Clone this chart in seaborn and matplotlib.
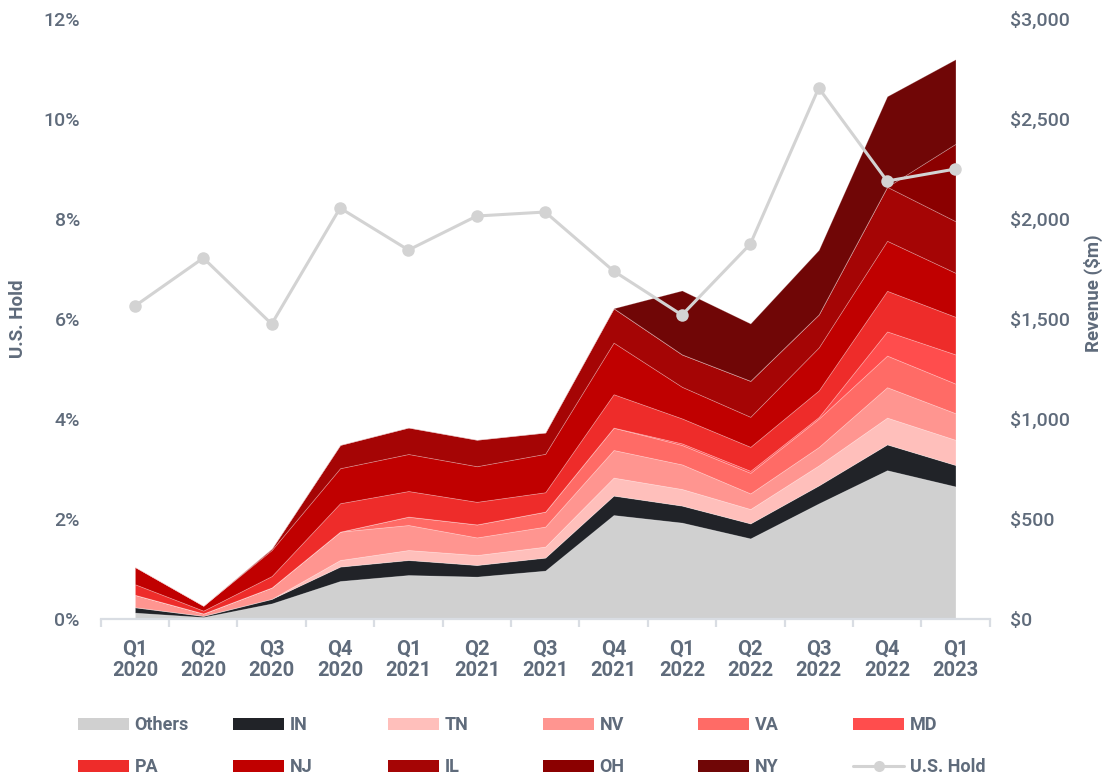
import numpy as np
import pandas as pd
import matplotlib
matplotlib.use("Agg")
import matplotlib.pyplot as plt
import seaborn as sns
from matplotlib.patches import Patch
from matplotlib.lines import Line2D
from matplotlib.ticker import FuncFormatter

# clean white background, no grid
sns.set_theme(style="white")
plt.rcParams['font.family'] = ['Roboto', 'DejaVu Sans']

# quarterly data ($m revenue per state, stacked) and U.S. hold (%)
quarters = ["Q1\n2020", "Q2\n2020", "Q3\n2020", "Q4\n2020", "Q1\n2021", "Q2\n2021", "Q3\n2021",
            "Q4\n2021", "Q1\n2022", "Q2\n2022", "Q3\n2022", "Q4\n2022", "Q1\n2023"]
others = [32, 10, 78, 190, 220, 212, 242, 520, 482, 403, 578, 744, 663]
indiana = [27, 6, 23, 72, 75, 58, 65, 97, 85, 75, 90, 129, 107]
tennessee = [0, 0, 0, 33, 50, 50, 55, 90, 83, 72, 100, 134, 126]
nevada = [62, 12, 57, 142, 125, 88, 100, 138, 123, 78, 92, 152, 133]
virginia = [0, 0, 0, 0, 42, 65, 75, 112, 97, 103, 142, 158, 148]
maryland = [0, 0, 0, 0, 0, 0, 0, 0, 8, 10, 8, 121, 146]
pennsylvania = [53, 14, 57, 142, 128, 113, 97, 167, 125, 120, 133, 203, 188]
new_jersey = [87, 25, 130, 175, 185, 178, 192, 258, 158, 150, 215, 250, 220]
illinois = [0, 0, 8, 117, 133, 133, 107, 172, 162, 180, 165, 270, 258]
ohio = [0, 0, 0, 0, 0, 0, 0, 0, 0, 0, 0, 0, 387]
new_york = [0, 0, 0, 0, 0, 0, 0, 0, 320, 287, 323, 453, 423]
us_hold = [6.26, 7.22, 5.90, 8.22, 7.38, 8.06, 8.14, 6.96, 6.08, 7.50, 10.62, 8.76, 9.00]

states = ["Others", "IN", "TN", "NV", "VA", "MD", "PA", "NJ", "IL", "OH", "NY"]
colors = ["#d0d0d0", "#212328", "#ffbfbb", "#ff9590", "#ff6b66", "#ff4d4d",
          "#ee2c2a", "#c00000", "#a50505", "#8b0000", "#700606"]
hold_color = "#d3d3d3"
text_color = "#5f6b7b"

df = pd.DataFrame({"quarter": quarters, "Others": others, "IN": indiana, "TN": tennessee,
                   "NV": nevada, "VA": virginia, "MD": maryland, "PA": pennsylvania,
                   "NJ": new_jersey, "IL": illinois, "OH": ohio, "NY": new_york,
                   "hold": us_hold})
df["pos"] = np.arange(len(df))

fig = plt.figure(figsize=(11.07, 7.76), dpi=100)
ax = fig.add_axes([0.091, 0.2023, 0.803, 0.7732])  # revenue axis (drawn below)
ax2 = ax.twinx()  # hold axis (on top)

# stacked revenue areas
ax.stackplot(df["pos"], *[df[s] for s in states], colors=colors,
             edgecolor=(1, 1, 1, 0.25), linewidth=0.6)
ax.set_ylim(0, 3000)
ax.set_xlim(-0.5, 12.5)
ax.yaxis.set_ticks_position('right')
ax.yaxis.set_label_position('right')
ax.set_yticks(range(0, 3001, 500))
ax.yaxis.set_major_formatter(FuncFormatter(lambda v, p: f"${v:,.0f}"))
ax.set_ylabel("Revenue ($m)", fontsize=13.5, color=text_color, fontweight='bold')
ax.yaxis.set_label_coords(1.1065, 0.543)

# U.S. hold line
sns.lineplot(data=df, x="pos", y="hold", ax=ax2, color=hold_color, linewidth=2.2,
             marker='o', markersize=9, markeredgewidth=0, zorder=5)
ax2.set_ylim(0, 12)
ax2.yaxis.set_ticks_position('left')
ax2.yaxis.set_label_position('left')
ax2.set_yticks(range(0, 13, 2))
ax2.yaxis.set_major_formatter(FuncFormatter(lambda v, p: f"{v:.0f}%"))
ax2.set_ylabel("U.S. Hold", fontsize=13.5, color=text_color, fontweight='bold')
ax2.yaxis.set_label_coords(-0.083, 0.5)
ax2.set_xlabel("")

for a in (ax, ax2):
    for sp in a.spines.values():
        sp.set_visible(False)
    a.tick_params(axis='y', length=0, pad=15, labelsize=14, labelcolor=text_color)

# x axis: category labels with tick marks at the boundaries
ax.spines['bottom'].set_visible(True)
ax.spines['bottom'].set_color("#d9dde3")
ax.spines['bottom'].set_linewidth(1.6)
ax.set_xticks(df["pos"])
ax.set_xticklabels(quarters)
ax.set_xticks(np.arange(-0.5, 13, 1), minor=True)
ax.tick_params(axis='x', which='major', length=0, pad=15, labelsize=14.5, labelcolor=text_color)
ax.tick_params(axis='x', which='minor', length=6, width=1.6, color="#d9dde3", bottom=True)
for lbl in ax.get_xticklabels():
    lbl.set_fontweight('bold')
    lbl.set_linespacing(1.15)
for lbl in ax.get_yticklabels() + ax2.get_yticklabels():
    lbl.set_fontweight('medium')

# legend: six evenly spaced columns, two rows
handles = [Patch(facecolor=c, edgecolor='none', label=s) for s, c in zip(states, colors)]
handles.append(Line2D([0], [0], color=hold_color, linewidth=2.2, marker='o',
                      markersize=8, markeredgewidth=0, label="U.S. Hold"))
for i in range(6):
    leg = fig.legend(handles=[handles[i], handles[i + 6]], loc='upper left',
                     bbox_to_anchor=((78 + 155 * i) / 1107, 1 - 716 / 776),
                     frameon=False, fontsize=13, handlelength=2.85, handleheight=0.66,
                     handletextpad=0.28, labelspacing=1.35, borderpad=0, borderaxespad=0)
    for t in leg.get_texts():
        t.set_color(text_color)
        t.set_fontweight('bold')

fig.savefig("out.png", dpi=100)
